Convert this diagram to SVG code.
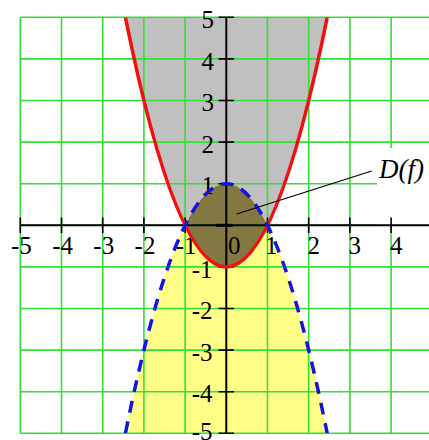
<svg xmlns="http://www.w3.org/2000/svg" width="429" height="440" viewBox="0 0 429 440">
<style>
.grid{stroke:#33e033;stroke-width:1.6;fill:none}
.axis{stroke:#000;stroke-width:2;fill:none}
.tick{stroke:#000;stroke-width:1.6}
.lbl{font-family:"Liberation Serif","Times New Roman",serif;font-size:25px;fill:#000}
.ye{text-anchor:end}
.xe{text-anchor:end}
.red{stroke:#f01010;stroke-width:3.5;fill:none}
.blue{stroke:#1414e0;stroke-width:3.5;fill:none;stroke-dasharray:12 9}
</style>
<defs>
<clipPath id="plot"><rect x="20.3" y="17.3" width="412" height="416"/></clipPath>
</defs>
<rect width="429" height="440" fill="#fff"/>
<g id="regions" clip-path="url(#plot)">
<path id="gray" d="M125.4,17.3 Q226.3,516.5 327.2,17.3 Z" fill="#c0c0c0"/>
<path id="yellow" d="M125.4,433.3 Q226.3,-65.9 327.2,433.3 Z" fill="#ffff88"/>
<path id="olive" d="M185.1,225.3 Q226.3,142.1 267.5,225.3 Q226.3,308.5 185.1,225.3 Z" fill="#847842"/>
</g>
<g id="grid" class="grid">
<path d="M20.3,17.3H429M20.3,58.9H429M20.3,100.5H429M20.3,142.1H429M20.3,183.7H377M20.3,225.3H377M20.3,266.9H429M20.3,308.5H429M20.3,350.1H429M20.3,391.7H429M20.3,433.3H429"/>
<path d="M20.3,17.3V433.3M61.5,17.3V433.3M102.7,17.3V433.3M143.9,17.3V433.3M185.1,17.3V433.3M267.5,17.3V433.3M308.7,17.3V433.3M349.9,17.3V433.3M391.1,17.3V148M391.1,225.3V433.3"/>
</g>
<g id="axes">
<path class="axis" d="M20.3,225.3H429M226.3,17.3V433.3"/>
<path class="tick" d="M20.3,217.5V233M61.5,217.5V233M102.7,217.5V233M143.9,217.5V233M185.1,217.5V233M267.5,217.5V233M308.7,217.5V233M349.9,217.5V233M391.1,217.5V233"/>
<path class="tick" d="M218.5,17.3H234M218.5,58.9H234M218.5,100.5H234M218.5,142.1H234M218.5,183.7H234M218.5,266.9H234M218.5,308.5H234M218.5,350.1H234M218.5,391.7H234M218.5,433.3H234"/>
<path d="M216,225.3H233" stroke="#000" stroke-width="3"/>
</g>
<g id="ylabels" class="lbl ye">
<text x="214" y="27.9">5</text>
<text x="214" y="69.5">4</text>
<text x="214" y="111.1">3</text>
<text x="214" y="152.7">2</text>
<text x="214" y="194.3">1</text>
<text x="212.5" y="277.5">-1</text>
<text x="212.5" y="319.1">-2</text>
<text x="212.5" y="360.7">-3</text>
<text x="212.5" y="402.3">-4</text>
<text x="212.5" y="439.5">-5</text>
</g>
<g id="xlabels" class="lbl">
<text class="xe" x="31.8" y="254">-5</text>
<text class="xe" x="73" y="254">-4</text>
<text class="xe" x="114.2" y="254">-3</text>
<text class="xe" x="155.4" y="254">-2</text>
<text class="xe" x="196.6" y="254">-1</text>
<text x="228" y="254">0</text>
<text x="265" y="254">1</text>
<text x="307.5" y="254">2</text>
<text x="348.5" y="254">3</text>
<text x="390" y="254">4</text>
</g>
<g id="curves" clip-path="url(#plot)">
<path id="f-red" class="red" d="M125.4,17.3 Q226.3,516.5 327.2,17.3"/>
<path id="g-blue" class="blue" d="M125.4,433.3 Q226.3,-65.9 327.2,433.3"/>
</g>
<g id="connectors">
<line x1="371.7" y1="171" x2="236.7" y2="214" stroke="#000" stroke-width="1.2"/>
</g>
<g id="label-Df">
<text x="379" y="177.5" font-family="Liberation Serif,'Times New Roman',serif" font-style="italic" font-size="27">D(f)</text>
</g>
</svg>
